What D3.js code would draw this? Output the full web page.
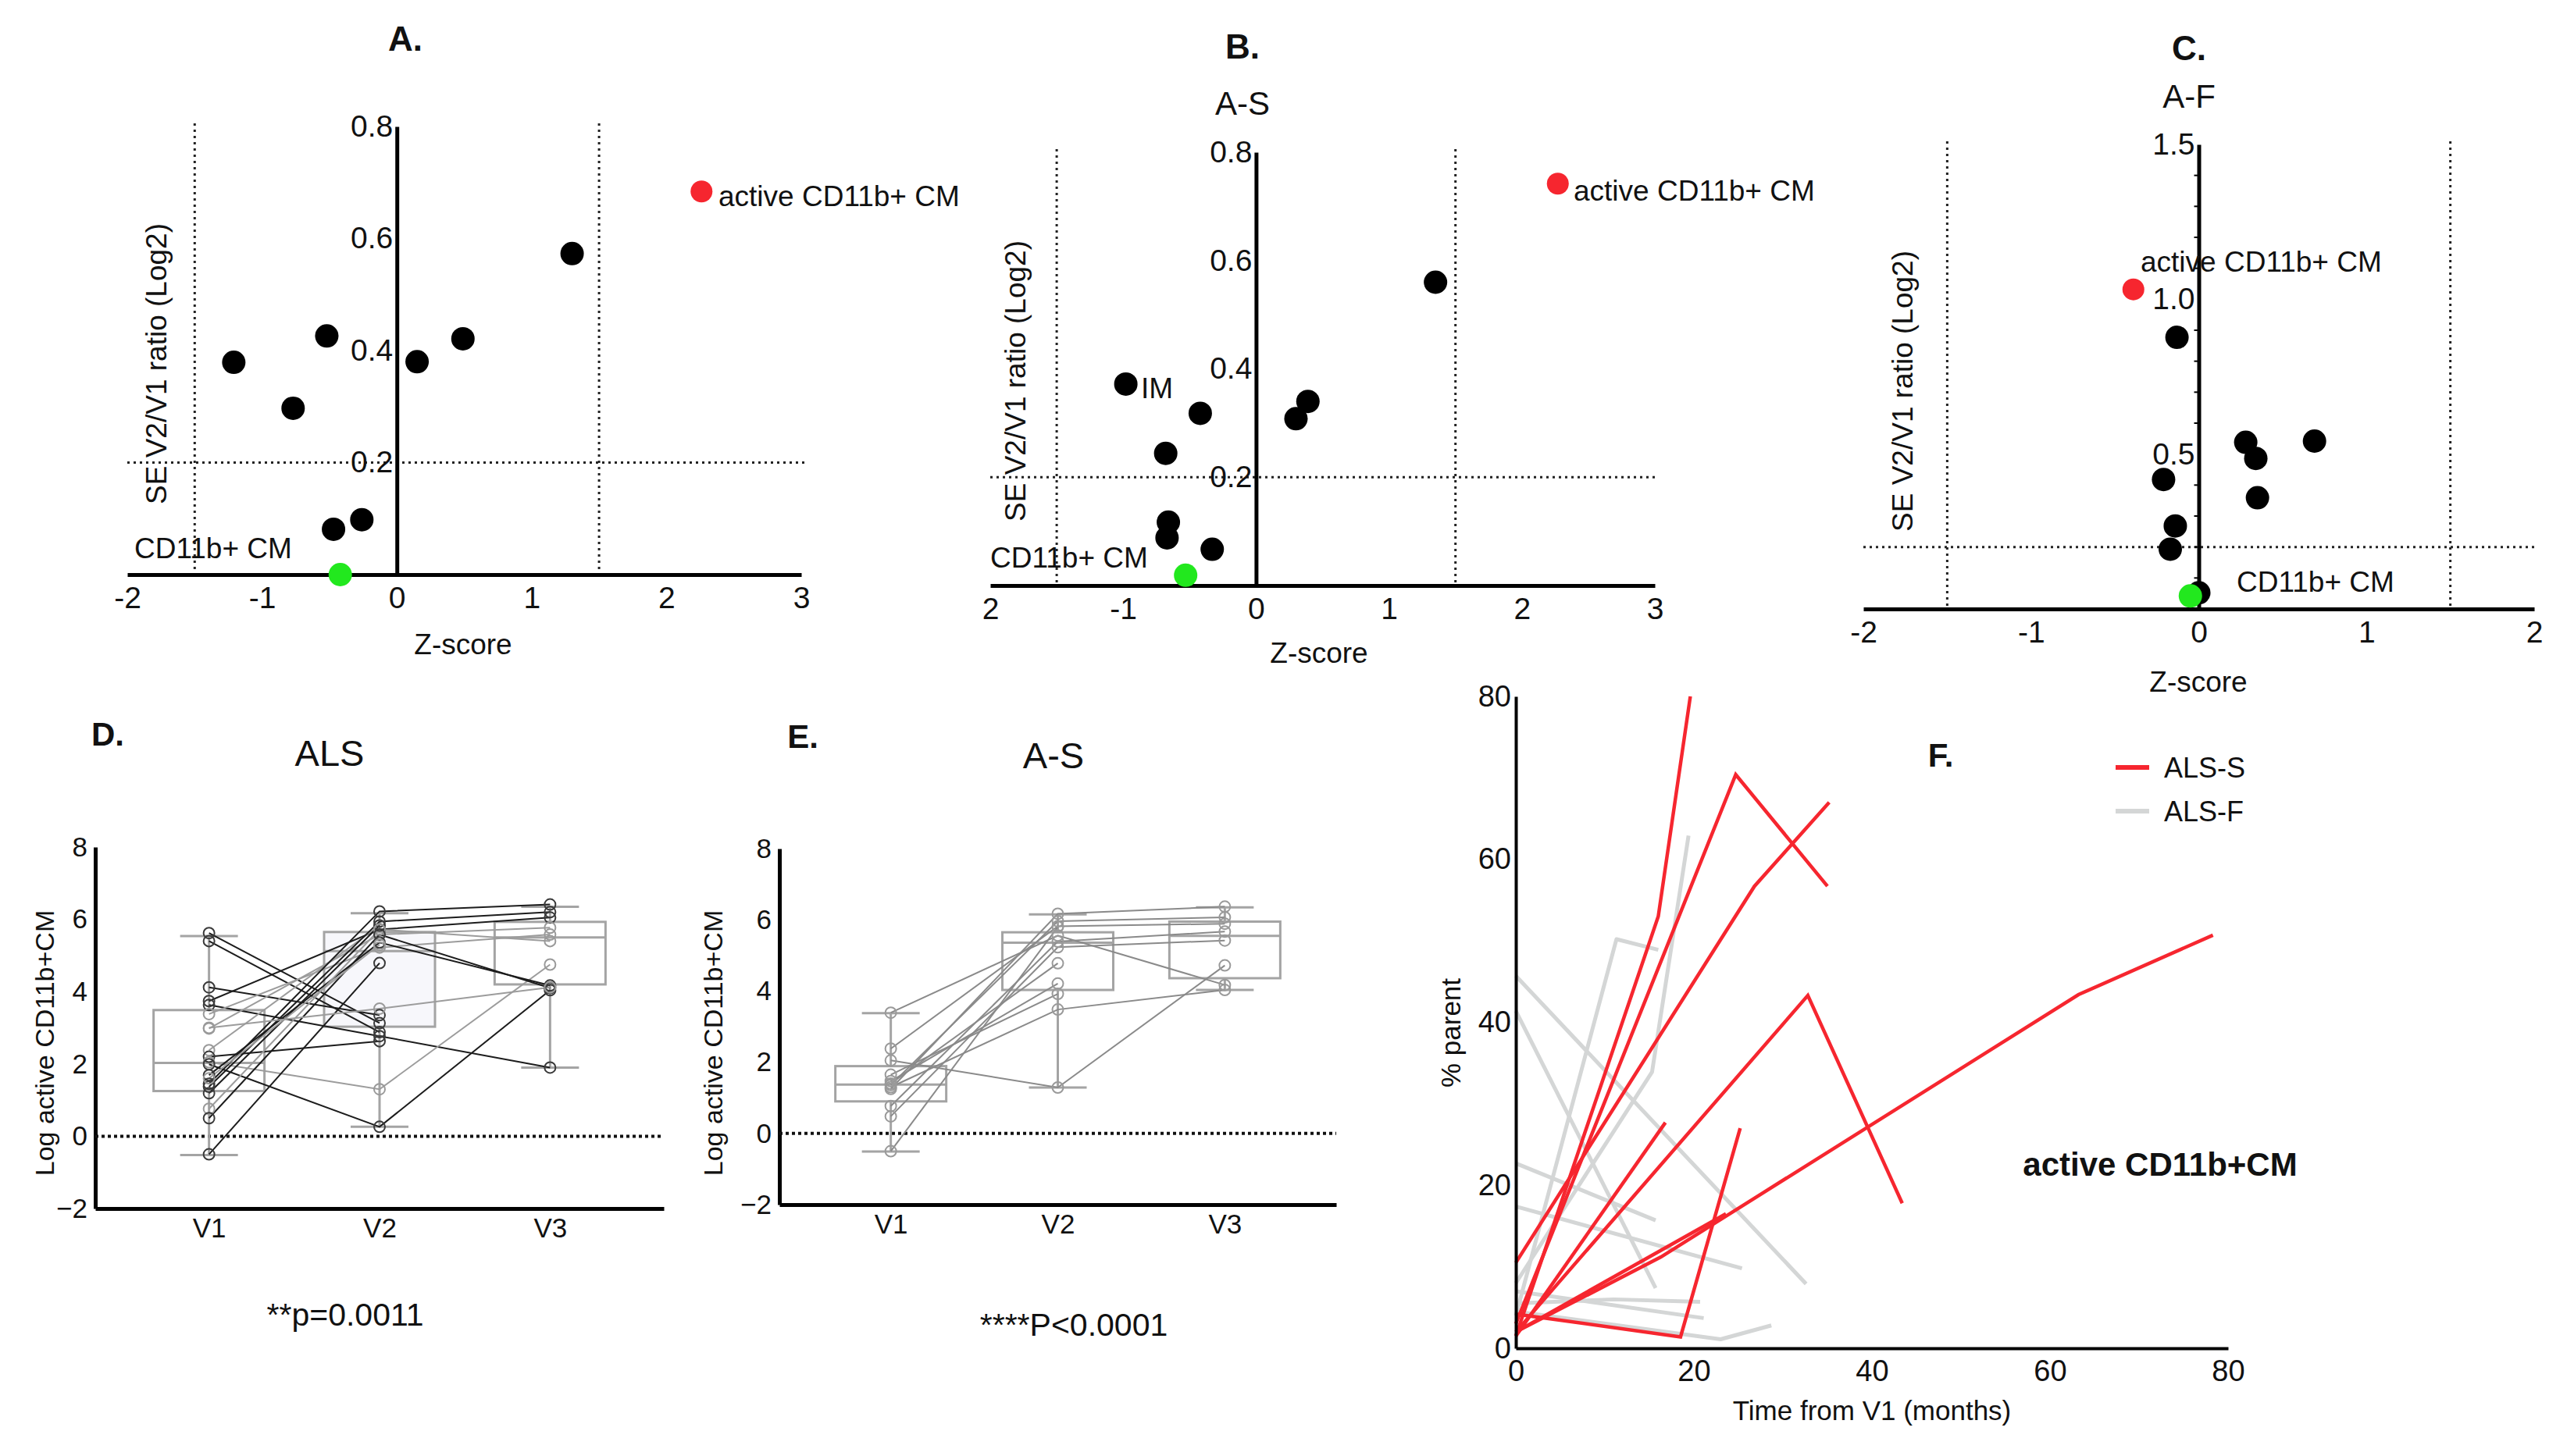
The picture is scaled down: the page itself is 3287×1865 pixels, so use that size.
<!DOCTYPE html>
<html>
<head>
<meta charset="utf-8">
<script src="https://cdnjs.cloudflare.com/ajax/libs/d3/7.8.5/d3.min.js"></script>
<style>
body { margin: 0; background: #fff; }
svg { display: block; }
</style>
</head>
<body>
<div id="chart"></div>
<script>
// ---- data ----

// A. all ALS : z-score / SE V2/V1 ratio (log2)
var aZ = [-1.21, -0.77, -0.52, 0.15, 0.49, 1.30, -0.47, -0.26];
var aSE = [0.379, 0.297, 0.426, 0.380, 0.421, 0.573, 0.081, 0.098];
var aActive = [2.26, 0.684];
var aCM = [-0.42, 0.0];

// B. A-S
var bZ = [-0.98, -0.42, -0.68, 0.30, 0.39, 1.35, -0.66, -0.67, -0.33];
var bSE = [0.372, 0.318, 0.244, 0.308, 0.340, 0.560, 0.117, 0.088, 0.067];
var bActive = [2.27, 0.742];
var bCM = [-0.53, 0.019];

// C. A-F
var cZ = [-0.13, 0.28, 0.34, 0.69, 0.35, -0.21, -0.14, -0.17, 0.0];
var cSE = [0.877, 0.538, 0.486, 0.542, 0.359, 0.418, 0.268, 0.193, 0.052];
var cActive = [-0.39, 1.032];
var cCM = [-0.05, 0.042];

// D. ALS, log active CD11b+CM per visit (group F = dark line, S = grey line)
var visits = ['V1', 'V2', 'V3'];
var alsV1 = [5.62, 5.40, 4.12, 3.74, 3.63, 3.38, 2.98, 2.38, 2.20, 2.05, 1.99, 1.69, 1.45, 1.37, 1.19, 0.76, 0.50, -0.50, 3.00, 1.60];
var alsV2 = [3.13, 2.88, 3.35, 5.72, 2.77, 5.22, 5.58, 5.83, 2.63, 1.30, 0.26, 5.36, 6.22, 5.94, 5.83, 5.72, 5.58, 4.79, 3.53, 5.30];
var alsV3 = [null, null, null, 6.05, 1.90, 5.58, 5.77, null, null, 4.75, 4.04, 4.17, 6.41, 6.20, null, 5.40, 4.10, null, 4.12, null];
var alsGroup = ['F','F','F','F','F','S','S','S','F','S','F','F','F','F','F','S','F','F','S','S'];
var alsMin = [-0.52, 0.26, 1.90];
var alsQ1 = [1.25, 3.03, 4.20];
var alsMed = [2.03, 5.12, 5.50];
var alsQ3 = [3.49, 5.65, 5.93];
var alsMax = [5.54, 6.17, 6.35];

// E. A-S
var asV1 = [3.39, 2.38, 2.05, 1.65, 1.47, 1.36, 1.25, 0.77, 0.48, -0.50, 1.30, 1.40];
var asV2 = [5.56, 5.82, 1.29, 3.92, 4.21, 5.96, 6.17, 5.39, 5.23, 5.80, 3.48, 4.78];
var asV3 = [4.17, 5.89, 4.72, null, null, 6.07, 6.37, 5.67, 5.42, null, 4.03, null];
var asMin = [-0.51, 1.29, 4.03];
var asQ1 = [0.90, 4.03, 4.36];
var asMed = [1.37, 5.36, 5.55];
var asQ3 = [1.89, 5.65, 5.95];
var asMax = [3.38, 6.15, 6.35];

var dTicks = [-2, 0, 2, 4, 6, 8];

// F. % parent over time from V1 (months)
var fSlow = [
  [[0, 1.5], [16, 53], [19.6, 80]],
  [[0, 3], [24.7, 70.4], [35, 56.7]],
  [[0, 10.5], [26.8, 56.7], [35.2, 67]],
  [[0, 2], [32.8, 43.3], [43.4, 17.8]],
  [[0, 1.5], [16.8, 27.7]],
  [[0, 4.2], [18.5, 1.4], [25.2, 27]],
  [[0, 2], [23.6, 16.5]],
  [[0, 2], [16.3, 11.2], [63.2, 43.4], [78.3, 50.7]]
];
var fFast = [
  [[0, 45.7], [32.6, 7.9]],
  [[0, 41.4], [15.7, 7.4]],
  [[0, 22.7], [15.7, 15.7]],
  [[0, 17.4], [25.4, 9.8]],
  [[0, 4], [11.3, 50.2], [16, 48.9]],
  [[0, 8], [15.3, 33.9], [19.4, 62.9]],
  [[0, 5.5], [11, 6], [20.7, 5.7]],
  [[0, 7], [21.1, 3.7]],
  [[0, 4.5], [23, 1.1], [28.7, 2.8]]
];
var fTicks = [0, 20, 40, 60, 80];
var fLegend = ['ALS-S', 'ALS-F'];

// ---- drawing ----
var FONT = '"Liberation Sans", Arial, Helvetica, sans-serif';
var RED = '#f6262f', GREEN = '#22e81e';

var svg = d3.select('#chart').append('svg')
  .attr('width', 3287).attr('height', 1865)
  .attr('font-family', FONT);

function styleAxis(sel, size, w) {
  sel.attr('font-family', FONT).attr('font-size', size);
  sel.select('.domain').attr('stroke', '#000').attr('stroke-width', w);
  sel.selectAll('text').attr('fill', '#111');
}

function addText(g, x, y, txt, size, opts) {
  opts = opts || {};
  var t = g.append('text')
    .attr('x', x).attr('y', y)
    .attr('dy', '0.35em')
    .attr('font-size', size)
    .attr('text-anchor', opts.anchor || 'middle')
    .attr('fill', opts.fill || '#111')
    .text(txt);
  if (opts.bold) t.attr('font-weight', 'bold');
  if (opts.rotate) t.attr('transform', 'rotate(-90,' + x + ',' + y + ')');
  return t;
}

function volcano(p) {
  var g = svg.append('g');
  var x = d3.scaleLinear().domain(p.xDomain).range(p.xRange);
  var y = d3.scaleLinear().domain(p.yDomain).range(p.yRange);

  // cut-off lines
  g.selectAll('.vcut').data([-1.5, 1.5]).enter().append('line')
    .attr('x1', d => x(d)).attr('x2', d => x(d))
    .attr('y1', p.yRange[1] - 4).attr('y2', y(0))
    .attr('stroke', '#222').attr('stroke-width', 3).attr('stroke-dasharray', '3,5');
  g.append('line')
    .attr('x1', p.xRange[0]).attr('x2', p.xRange[1] + 4)
    .attr('y1', y(0.2)).attr('y2', y(0.2))
    .attr('stroke', '#222').attr('stroke-width', 3).attr('stroke-dasharray', '3,5');

  var xAxis = g.append('g')
    .attr('transform', `translate(0,${y(0)})`)
    .call(d3.axisBottom(x).tickValues(p.xTicks).tickSize(0).tickSizeOuter(0).tickPadding(15)
      .tickFormat(p.xFormat || (d => String(d))));
  styleAxis(xAxis, 39, 5);

  var yAxis = g.append('g')
    .attr('transform', `translate(${x(0)},0)`)
    .call(d3.axisLeft(y).tickValues(p.yTicks).tickSize(0).tickSizeOuter(0).tickPadding(5)
      .tickFormat(d3.format('.1f')));
  styleAxis(yAxis, 39, 5);

  if (p.minor) {
    g.selectAll('.minor').data(p.minor).enter().append('line')
      .attr('x1', x(0) - 6).attr('x2', x(0))
      .attr('y1', d => y(d)).attr('y2', d => y(d))
      .attr('stroke', '#000').attr('stroke-width', 2);
  }

  g.selectAll('.pt').data(p.z).enter().append('circle')
    .attr('cx', d => x(d))
    .attr('cy', (d, i) => y(p.se[i]))
    .attr('r', 15)
    .attr('fill', '#000');
  g.append('circle').attr('cx', x(p.cm[0])).attr('cy', y(p.cm[1])).attr('r', 15).attr('fill', GREEN);
  g.append('circle').attr('cx', x(p.active[0])).attr('cy', y(p.active[1])).attr('r', 14).attr('fill', RED);

  // annotations
  addText(g, p.activeLabel[0], p.activeLabel[1], 'active CD11b+ CM', 37, {anchor: 'start'});
  addText(g, p.cmLabel[0], p.cmLabel[1], 'CD11b+ CM', 37, {anchor: 'start'});
  if (p.imLabel) addText(g, p.imLabel[0], p.imLabel[1], 'IM', 37, {anchor: 'start'});

  addText(g, p.letter[1], p.letter[2], p.letter[0], 44, {bold: true});
  if (p.sub) addText(g, p.sub[1], p.sub[2], p.sub[0], 42);
  addText(g, p.zLabel[0], p.zLabel[1], 'Z-score', 37);
  addText(g, p.yLabel[0], p.yLabel[1], 'SE V2/V1 ratio (Log2)', 37, {rotate: true});
}

volcano({
  z: aZ, se: aSE, active: aActive, cm: aCM,
  xDomain: [-2, 3], xRange: [163, 1026], yDomain: [0, 0.8], yRange: [736, 162],
  xTicks: [-2, -1, 0, 1, 2, 3], yTicks: [0.2, 0.4, 0.6, 0.8],
  activeLabel: [920, 251], cmLabel: [172, 702],
  letter: ['A.', 519, 50], zLabel: [593, 825], yLabel: [200, 466]
});

volcano({
  z: bZ, se: bSE, active: bActive, cm: bCM,
  xDomain: [-2, 3], xRange: [1268, 2119], yDomain: [0, 0.8], yRange: [750, 195],
  xTicks: [-2, -1, 0, 1, 2, 3], yTicks: [0.2, 0.4, 0.6, 0.8],
  xFormat: d => d === -2 ? '2' : String(d),
  activeLabel: [2015, 244], cmLabel: [1268, 714], imLabel: [1461, 497],
  letter: ['B.', 1591, 60], sub: ['A-S', 1591, 132], zLabel: [1689, 836], yLabel: [1300, 488]
});

volcano({
  z: cZ, se: cSE, active: cActive, cm: cCM,
  xDomain: [-2, 2], xRange: [2386, 3245], yDomain: [0, 1.5], yRange: [780, 185],
  xTicks: [-2, -1, 0, 1, 2], yTicks: [0.5, 1.0, 1.5],
  minor: [0.1, 0.2, 0.3, 0.4, 0.6, 0.7, 0.8, 0.9, 1.1, 1.2, 1.3, 1.4],
  activeLabel: [2741, 335], cmLabel: [2864, 745],
  letter: ['C.', 2803, 62], sub: ['A-F', 2803, 123], zLabel: [2815, 873], yLabel: [2436, 501]
});

// box + paired lines panels
function boxPanel(p) {
  var g = svg.append('g');
  var x = d3.scalePoint().domain(visits).range(p.xRange).padding(0.667);
  var y = d3.scaleLinear().domain([-2, 8]).range(p.yRange);
  var boxW = 142, capW = 74;

  var yAxis = g.append('g')
    .attr('transform', `translate(${p.xRange[0]},0)`)
    .call(d3.axisLeft(y).tickValues(dTicks).tickSize(0).tickSizeOuter(0).tickPadding(10));
  styleAxis(yAxis, 35, 5);
  var xAxis = g.append('g')
    .attr('transform', `translate(0,${y(-2)})`)
    .call(d3.axisBottom(x).tickSize(0).tickSizeOuter(0).tickPadding(12));
  styleAxis(xAxis, 35, 5);

  g.append('line')
    .attr('x1', p.xRange[0]).attr('x2', p.xRange[1])
    .attr('y1', y(0)).attr('y2', y(0))
    .attr('stroke', '#111').attr('stroke-width', 4).attr('stroke-dasharray', '4,4');

  var boxes = g.selectAll('.box').data(visits).enter().append('g');
  boxes.append('line')
    .attr('x1', d => x(d)).attr('x2', d => x(d))
    .attr('y1', (d, i) => y(p.max[i])).attr('y2', (d, i) => y(p.min[i]))
    .attr('stroke', '#a4a4a4').attr('stroke-width', 3);
  boxes.append('rect')
    .attr('x', d => x(d) - boxW / 2).attr('width', boxW)
    .attr('y', (d, i) => y(p.q3[i]))
    .attr('height', (d, i) => y(p.q1[i]) - y(p.q3[i]))
    .attr('fill', (d, i) => p.tint && i === 1 ? '#f7f7fb' : '#fff')
    .attr('stroke', '#a4a4a4').attr('stroke-width', 3);
  boxes.append('line')
    .attr('x1', d => x(d) - boxW / 2).attr('x2', d => x(d) + boxW / 2)
    .attr('y1', (d, i) => y(p.med[i])).attr('y2', (d, i) => y(p.med[i]))
    .attr('stroke', '#a4a4a4').attr('stroke-width', 3);
  ['min', 'max'].forEach(function(k) {
    boxes.append('line')
      .attr('x1', d => x(d) - capW / 2).attr('x2', d => x(d) + capW / 2)
      .attr('y1', (d, i) => y(p[k][i])).attr('y2', (d, i) => y(p[k][i]))
      .attr('stroke', '#a4a4a4').attr('stroke-width', 3);
  });

  // one path per subject
  var subjects = p.v1.map(function(v, i) {
    var pts = [['V1', v], ['V2', p.v2[i]]];
    if (p.v3[i] !== null) pts.push(['V3', p.v3[i]]);
    return {pts: pts, grp: p.grp ? p.grp[i] : 'S'};
  });
  var line = d3.line().x(d => x(d[0])).y(d => y(d[1]));
  g.selectAll('.subj').data(subjects).enter().append('path')
    .attr('d', d => line(d.pts))
    .attr('fill', 'none')
    .attr('stroke', d => d.grp === 'F' ? '#1c1c1c' : p.lineGrey)
    .attr('stroke-width', 2);
  subjects.forEach(function(s) {
    g.selectAll(null).data(s.pts).enter().append('circle')
      .attr('cx', d => x(d[0])).attr('cy', d => y(d[1]))
      .attr('r', 7)
      .attr('fill', 'none')
      .attr('stroke', s.grp === 'F' ? '#3a3a3a' : '#9a9a9a')
      .attr('stroke-width', 2);
  });

  addText(g, p.letter[1], p.letter[2], p.letter[0], 42, {bold: true});
  addText(g, p.title[1], p.title[2], p.title[0], 47);
  addText(g, p.yLabel[0], p.yLabel[1], 'Log active CD11b+CM', 34, {rotate: true});
  addText(g, p.pText[1], p.pText[2], p.pText[0], 41);
}

boxPanel({
  v1: alsV1, v2: alsV2, v3: alsV3, grp: alsGroup, lineGrey: '#9c9c9c', tint: true,
  min: alsMin, q1: alsQ1, med: alsMed, q3: alsQ3, max: alsMax,
  xRange: [122, 850], yRange: [1548, 1085],
  letter: ['D.', 138, 940], title: ['ALS', 422, 965], yLabel: [57, 1336],
  pText: ['**p=0.0011', 442, 1684]
});

boxPanel({
  v1: asV1, v2: asV2, v3: asV3, lineGrey: '#8a8a8a',
  min: asMin, q1: asQ1, med: asMed, q3: asQ3, max: asMax,
  xRange: [998, 1711], yRange: [1543, 1087],
  letter: ['E.', 1028, 943], title: ['A-S', 1349, 968], yLabel: [913, 1336],
  pText: ['****P<0.0001', 1375, 1697]
});

// F. trajectories
(function() {
  var g = svg.append('g');
  var x = d3.scaleLinear().domain([0, 80]).range([1941, 2853]);
  var y = d3.scaleLinear().domain([0, 80]).range([1727, 892]);
  var line = d3.line().x(d => x(d[0])).y(d => y(d[1]));

  g.selectAll('.fast').data(fFast).enter().append('path')
    .attr('d', line).attr('fill', 'none')
    .attr('stroke', '#d4d6d6').attr('stroke-width', 5).attr('stroke-linejoin', 'round');
  g.selectAll('.slow').data(fSlow).enter().append('path')
    .attr('d', line).attr('fill', 'none')
    .attr('stroke', RED).attr('stroke-width', 4.5).attr('stroke-linejoin', 'miter');

  var xAxis = g.append('g')
    .attr('transform', `translate(0,${y(0)})`)
    .call(d3.axisBottom(x).tickValues(fTicks).tickSize(0).tickSizeOuter(0).tickPadding(15));
  styleAxis(xAxis, 38, 4);
  var yAxis = g.append('g')
    .attr('transform', `translate(${x(0)},0)`)
    .call(d3.axisLeft(y).tickValues(fTicks).tickSize(0).tickSizeOuter(0).tickPadding(6));
  styleAxis(yAxis, 38, 4);

  // legend
  var leg = g.selectAll('.leg').data(fLegend).enter().append('g')
    .attr('transform', (d, i) => `translate(2709,${983 + i * 56})`);
  leg.append('line').attr('x1', 0).attr('x2', 43).attr('y1', 0).attr('y2', 0)
    .attr('stroke', (d, i) => i === 0 ? RED : '#d4d6d6').attr('stroke-width', 6);
  leg.append('text').attr('x', 62).attr('dy', '0.35em').attr('font-size', 36)
    .attr('fill', '#111').text(d => d);

  addText(g, 2485, 967, 'F.', 42, {bold: true});
  addText(g, 2766, 1491, 'active CD11b+CM', 42, {bold: true});
  addText(g, 2397, 1807, 'Time from V1 (months)', 35);
  addText(g, 1858, 1323, '% parent', 35, {rotate: true});
})();
</script>
</body>
</html>
